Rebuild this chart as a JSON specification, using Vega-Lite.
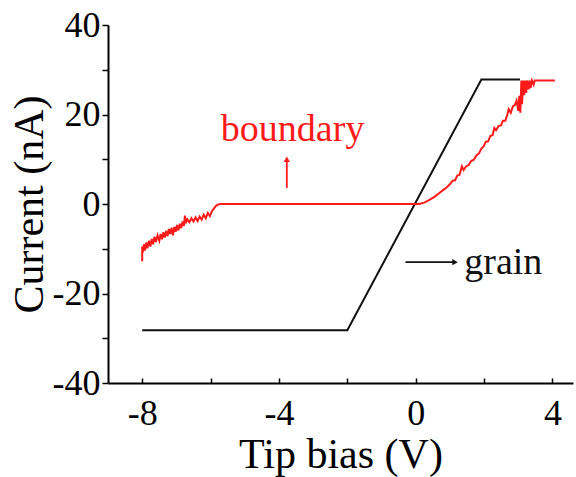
{
  "$schema": "https://vega.github.io/schema/vega-lite/v6.json",
  "autosize": "none",
  "width": 465,
  "height": 358,
  "padding": {"left": 108, "top": 25, "right": 3, "bottom": 94},
  "background": "white",
  "config": {
    "view": {"stroke": null},
    "font": "Liberation Serif",
    "axis": {
      "domainColor": "black", "domainWidth": 2, "tickColor": "black", "tickWidth": 1.5,
      "grid": false, "labelFont": "Liberation Serif", "titleFont": "Liberation Serif",
      "labelFontSize": 36, "titleFontSize": 42, "labelColor": "black", "titleColor": "black",
      "titleFontWeight": "normal", "labelFlush": false, "labelOverlap": false
    }
  },
  "datasets": {
    "curves": [
      {"s": "grain", "i": 1, "x": -8.0, "y": -28.2},
      {"s": "grain", "i": 2, "x": -2.0, "y": -28.2},
      {"s": "grain", "i": 3, "x": 1.92, "y": 27.8},
      {"s": "grain", "i": 4, "x": 3.05, "y": 27.8},
      {"s": "boundary", "i": 1, "x": -8.0, "y": -12.8},
      {"s": "boundary", "i": 2, "x": -8.0, "y": -9.5},
      {"s": "boundary", "i": 3, "x": -7.98, "y": -10.8},
      {"s": "boundary", "i": 4, "x": -7.95, "y": -9.0},
      {"s": "boundary", "i": 5, "x": -7.92, "y": -10.4},
      {"s": "boundary", "i": 6, "x": -7.88, "y": -8.6},
      {"s": "boundary", "i": 7, "x": -7.85, "y": -9.9},
      {"s": "boundary", "i": 8, "x": -7.8, "y": -8.2},
      {"s": "boundary", "i": 9, "x": -7.76, "y": -9.5},
      {"s": "boundary", "i": 10, "x": -7.72, "y": -7.8},
      {"s": "boundary", "i": 11, "x": -7.68, "y": -9.0},
      {"s": "boundary", "i": 12, "x": -7.64, "y": -7.3},
      {"s": "boundary", "i": 13, "x": -7.6, "y": -8.5},
      {"s": "boundary", "i": 14, "x": -7.55, "y": -7.0},
      {"s": "boundary", "i": 15, "x": -7.5, "y": -8.2},
      {"s": "boundary", "i": 16, "x": -7.46, "y": -6.7},
      {"s": "boundary", "i": 17, "x": -7.42, "y": -7.9},
      {"s": "boundary", "i": 18, "x": -7.38, "y": -6.3},
      {"s": "boundary", "i": 19, "x": -7.34, "y": -7.5},
      {"s": "boundary", "i": 20, "x": -7.3, "y": -6.0},
      {"s": "boundary", "i": 21, "x": -7.26, "y": -7.2},
      {"s": "boundary", "i": 22, "x": -7.22, "y": -5.6},
      {"s": "boundary", "i": 23, "x": -7.18, "y": -6.7},
      {"s": "boundary", "i": 24, "x": -7.14, "y": -5.3},
      {"s": "boundary", "i": 25, "x": -7.1, "y": -7.0},
      {"s": "boundary", "i": 26, "x": -7.06, "y": -5.1},
      {"s": "boundary", "i": 27, "x": -7.02, "y": -6.2},
      {"s": "boundary", "i": 28, "x": -6.98, "y": -4.7},
      {"s": "boundary", "i": 29, "x": -6.94, "y": -5.9},
      {"s": "boundary", "i": 30, "x": -6.9, "y": -4.4},
      {"s": "boundary", "i": 31, "x": -6.86, "y": -5.4},
      {"s": "boundary", "i": 32, "x": -6.82, "y": -3.9},
      {"s": "boundary", "i": 33, "x": -6.78, "y": -4.9},
      {"s": "boundary", "i": 34, "x": -6.75, "y": -2.6},
      {"s": "boundary", "i": 35, "x": -6.72, "y": -4.3},
      {"s": "boundary", "i": 36, "x": -6.68, "y": -3.4},
      {"s": "boundary", "i": 37, "x": -6.62, "y": -4.1},
      {"s": "boundary", "i": 38, "x": -6.56, "y": -3.2},
      {"s": "boundary", "i": 39, "x": -6.5, "y": -3.9},
      {"s": "boundary", "i": 40, "x": -6.44, "y": -3.0},
      {"s": "boundary", "i": 41, "x": -6.38, "y": -3.8},
      {"s": "boundary", "i": 42, "x": -6.32, "y": -2.8},
      {"s": "boundary", "i": 43, "x": -6.26, "y": -3.5},
      {"s": "boundary", "i": 44, "x": -6.2, "y": -2.4},
      {"s": "boundary", "i": 45, "x": -6.14, "y": -3.2},
      {"s": "boundary", "i": 46, "x": -6.08, "y": -2.0},
      {"s": "boundary", "i": 47, "x": -6.02, "y": -2.7},
      {"s": "boundary", "i": 48, "x": -5.96, "y": -1.6},
      {"s": "boundary", "i": 49, "x": -5.9, "y": -1.0},
      {"s": "boundary", "i": 50, "x": -5.84, "y": -0.4},
      {"s": "boundary", "i": 51, "x": -5.78, "y": -0.1},
      {"s": "boundary", "i": 52, "x": -5.7, "y": 0.0},
      {"s": "boundary", "i": 53, "x": 0.1, "y": 0.02},
      {"s": "boundary", "i": 54, "x": 0.25, "y": 0.3},
      {"s": "boundary", "i": 55, "x": 0.4, "y": 0.9},
      {"s": "boundary", "i": 56, "x": 0.55, "y": 1.6},
      {"s": "boundary", "i": 57, "x": 0.7, "y": 2.5},
      {"s": "boundary", "i": 58, "x": 0.8, "y": 3.1},
      {"s": "boundary", "i": 59, "x": 0.9, "y": 3.7},
      {"s": "boundary", "i": 60, "x": 1.0, "y": 4.4},
      {"s": "boundary", "i": 61, "x": 1.08, "y": 5.2},
      {"s": "boundary", "i": 62, "x": 1.15, "y": 5.3},
      {"s": "boundary", "i": 63, "x": 1.22, "y": 6.4},
      {"s": "boundary", "i": 64, "x": 1.28, "y": 6.5},
      {"s": "boundary", "i": 65, "x": 1.35, "y": 8.4},
      {"s": "boundary", "i": 66, "x": 1.4, "y": 7.6},
      {"s": "boundary", "i": 67, "x": 1.47, "y": 8.4},
      {"s": "boundary", "i": 68, "x": 1.55, "y": 8.7},
      {"s": "boundary", "i": 69, "x": 1.62, "y": 9.6},
      {"s": "boundary", "i": 70, "x": 1.7, "y": 9.9},
      {"s": "boundary", "i": 71, "x": 1.78, "y": 10.9},
      {"s": "boundary", "i": 72, "x": 1.85, "y": 11.3},
      {"s": "boundary", "i": 73, "x": 1.92, "y": 12.4},
      {"s": "boundary", "i": 74, "x": 1.98, "y": 12.8},
      {"s": "boundary", "i": 75, "x": 2.05, "y": 13.9},
      {"s": "boundary", "i": 76, "x": 2.12, "y": 14.0},
      {"s": "boundary", "i": 77, "x": 2.18, "y": 15.2},
      {"s": "boundary", "i": 78, "x": 2.25, "y": 15.4},
      {"s": "boundary", "i": 79, "x": 2.3, "y": 17.0},
      {"s": "boundary", "i": 80, "x": 2.35, "y": 16.5},
      {"s": "boundary", "i": 81, "x": 2.42, "y": 17.4},
      {"s": "boundary", "i": 82, "x": 2.5, "y": 17.6},
      {"s": "boundary", "i": 83, "x": 2.55, "y": 18.6},
      {"s": "boundary", "i": 84, "x": 2.62, "y": 18.6},
      {"s": "boundary", "i": 85, "x": 2.68, "y": 20.0},
      {"s": "boundary", "i": 86, "x": 2.72, "y": 21.2},
      {"s": "boundary", "i": 87, "x": 2.78, "y": 20.4},
      {"s": "boundary", "i": 88, "x": 2.84, "y": 21.8},
      {"s": "boundary", "i": 89, "x": 2.9, "y": 22.1},
      {"s": "boundary", "i": 90, "x": 2.95, "y": 23.1},
      {"s": "boundary", "i": 91, "x": 3.0, "y": 20.8},
      {"s": "boundary", "i": 92, "x": 3.03, "y": 24.2},
      {"s": "boundary", "i": 93, "x": 3.06, "y": 20.4},
      {"s": "boundary", "i": 94, "x": 3.09, "y": 27.6},
      {"s": "boundary", "i": 95, "x": 3.11, "y": 22.3},
      {"s": "boundary", "i": 96, "x": 3.14, "y": 27.6},
      {"s": "boundary", "i": 97, "x": 3.17, "y": 24.3},
      {"s": "boundary", "i": 98, "x": 3.2, "y": 27.6},
      {"s": "boundary", "i": 99, "x": 3.23, "y": 24.8},
      {"s": "boundary", "i": 100, "x": 3.26, "y": 27.6},
      {"s": "boundary", "i": 101, "x": 3.3, "y": 25.6},
      {"s": "boundary", "i": 102, "x": 3.33, "y": 27.6},
      {"s": "boundary", "i": 103, "x": 3.36, "y": 25.9},
      {"s": "boundary", "i": 104, "x": 3.4, "y": 27.6},
      {"s": "boundary", "i": 105, "x": 3.45, "y": 26.7},
      {"s": "boundary", "i": 106, "x": 3.48, "y": 27.6},
      {"s": "boundary", "i": 107, "x": 4.07, "y": 27.6}
    ],
    "arrows": [
      {"s": "boundary", "x": -3.77, "y": 3.6, "x2": -3.77, "y2": 10.0, "shape": "triangle-up"},
      {"s": "grain", "x": -0.3, "y": -13.0, "x2": 1.15, "y2": -13.0, "shape": "triangle-right"}
    ]
  },
  "encoding": {
    "x": {"field": "x", "type": "quantitative",
      "scale": {"domain": [-9, 4.6], "nice": false, "zero": false},
      "axis": {"title": "Tip bias (V)", "values": [-8, -6, -4, -2, 0, 2, 4],
        "labelExpr": "datum.value % 4 === 0 ? '' + datum.value : ''",
        "tickSize": -5, "labelPadding": 18, "titlePadding": 3}},
    "y": {"field": "y", "type": "quantitative",
      "scale": {"domain": [-40, 40], "nice": false},
      "axis": {"title": "Current (nA)", "values": [-40, -30, -20, -10, 0, 10, 20, 30, 40],
        "labelExpr": "datum.value % 20 === 0 ? '' + datum.value : ''",
        "tickSize": 6, "labelPadding": 2, "titlePadding": 1}}
  },
  "layer": [
    {
      "data": {"name": "curves"},
      "mark": {"type": "line", "strokeWidth": 2, "interpolate": "linear"},
      "encoding": {
        "detail": {"field": "s"},
        "order": {"field": "i", "type": "quantitative"},
        "color": {"field": "s", "type": "nominal", "scale": {"domain": ["boundary", "grain"], "range": ["#ff1a1a", "#111111"]}, "legend": null}
      }
    },
    {
      "data": {"values": [{"v": 40}]},
      "mark": {"type": "rule", "color": "black", "strokeWidth": 2},
      "encoding": {"y": {"field": "v", "type": "quantitative"}, "x": {"datum": -9}, "x2": {"datum": 4.6}}
    },
    {
      "data": {"name": "arrows"},
      "mark": {"type": "rule", "strokeWidth": 1.8},
      "encoding": {
        "x2": {"field": "x2"}, "y2": {"field": "y2"},
        "color": {"field": "s", "type": "nominal", "scale": {"domain": ["boundary", "grain"], "range": ["#ff1a1a", "#111111"]}, "legend": null}
      }
    },
    {
      "data": {"name": "arrows"},
      "mark": {"type": "point", "filled": true, "size": 40, "opacity": 1},
      "encoding": {
        "x": {"field": "x2", "type": "quantitative"}, "y": {"field": "y2", "type": "quantitative"},
        "shape": {"field": "shape", "type": "nominal", "scale": null},
        "color": {"field": "s", "type": "nominal", "scale": {"domain": ["boundary", "grain"], "range": ["#ff1a1a", "#111111"]}, "legend": null}
      }
    },
    {
      "data": {"values": [{"s": "boundary", "x": -3.6, "y": 16.5}]},
      "mark": {"type": "text", "fontSize": 38, "font": "Liberation Serif", "baseline": "middle", "align": "center", "color": "#ff1a1a"},
      "encoding": {"text": {"field": "s"}}
    },
    {
      "data": {"values": [{"s": "grain", "x": 1.42, "y": -13.2}]},
      "mark": {"type": "text", "fontSize": 38, "font": "Liberation Serif", "baseline": "middle", "align": "left", "color": "#111111"},
      "encoding": {"text": {"field": "s"}}
    }
  ]
}
